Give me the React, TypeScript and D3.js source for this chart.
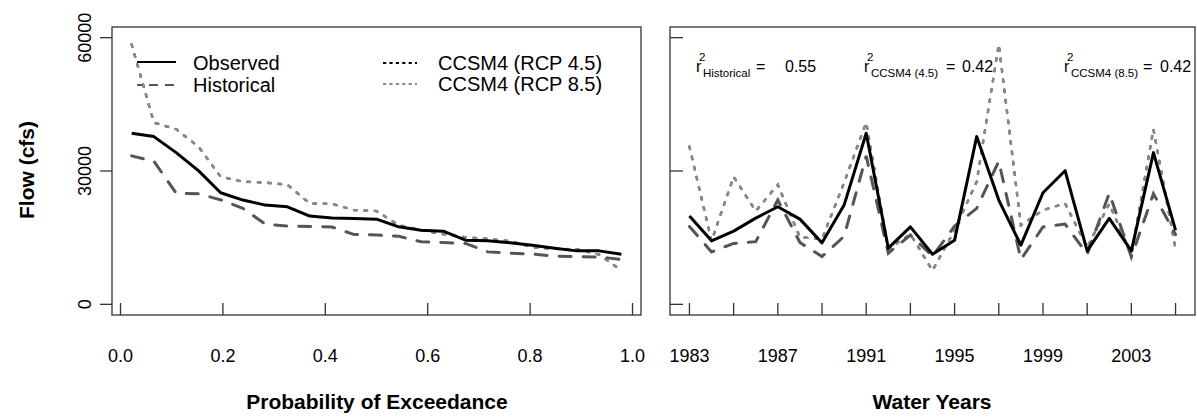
import React from "react";
import * as d3 from "d3";

// ---- Data ----
const years = [1983,1984,1985,1986,1987,1988,1989,1990,1991,1992,1993,1994,1995,1996,1997,1998,1999,2000,2001,2002,2003,2004,2005];
const observed = [19850,14280,16470,19400,21950,19170,13830,22330,38500,12630,17440,11280,14440,37740,23460,13310,25100,30070,12030,19330,12030,34130,16690];
const historical = [17500,11800,13700,14100,23500,13900,10750,15300,33400,11500,15600,10850,17600,21600,32200,10100,17400,18050,11300,25000,10650,24900,15700];
const rcp45 = [35500,14250,28700,21000,26900,15100,14700,27400,40900,12400,15800,7600,16700,27600,58500,17800,21200,22700,12800,22600,11200,39400,12500];
const rcp85 = [35500,14250,28700,21000,26900,15100,14700,27400,40900,12400,15800,7600,16700,27600,58500,17800,21200,22700,12800,22600,11200,39400,12500];

// exceedance curves (values ranked high to low)
const obsExc = [38500,37740,34130,30070,25100,23460,22330,21950,19850,19400,19330,19170,17440,16690,16470,14440,14280,13830,13310,12630,12030,12030,11280];
const histExc = [33400,32200,25000,24900,23500,21600,18050,17600,17500,17400,15700,15600,15300,14100,13900,13700,11800,11500,11300,10850,10750,10650,10100];
const rcp45Exc = [58500,40900,39400,35500,28700,27600,27400,26900,22700,22600,21200,21000,17800,16700,15800,15100,14700,14250,12800,12500,12400,11200,7600];
const rcp85Exc = [58500,40900,39400,35500,28700,27600,27400,26900,22700,22600,21200,21000,17800,16700,15800,15100,14700,14250,12800,12500,12400,11200,7600];

const yTicks = [0, 30000, 60000];
const probTicks = [0, 0.2, 0.4, 0.6, 0.8, 1.0];
const yearTicks = [1983,1985,1987,1989,1991,1993,1995,1997,1999,2001,2003,2005];
const yearLabels = [1983,1987,1991,1995,1999,2003];

const FONT = "'Liberation Sans', Arial, Helvetica, sans-serif";

export default function App() {
  const y = d3.scaleLinear().domain([-2400, 62400]).range([315, 27]);
  const xL = d3.scaleLinear().domain([-0.0166, 1.0166]).range([112, 641]);
  const xR = d3.scaleLinear().domain([1982.12, 2005.88]).range([670, 1195]);

  const n = obsExc.length;
  const prob = (i: number) => (i + 0.5) / n;
  const lineL = d3.line<number>().x((_, i) => xL(prob(i))).y((v) => y(v));
  const lineR = d3.line<number>().x((_, i) => xR(years[i])).y((v) => y(v));

  const sObs = { stroke: "#000", strokeWidth: 3, fill: "none" };
  const sHist = { stroke: "#555", strokeWidth: 3, fill: "none", strokeDasharray: "12,12" };
  const s45 = { stroke: "#000", strokeWidth: 2.2, fill: "none", strokeDasharray: "2.6,7.8" };
  const s85 = { stroke: "#8a8a8a", strokeWidth: 2.6, fill: "none", strokeDasharray: "2.6,7.8" };

  const tickFont = 18;
  return (
    <svg width={1197} height={417} style={{ position: "absolute", left: 0, top: 0, background: "#fff" }} fontFamily={FONT}>
      {/* LEFT PANEL */}
      <g>
        <path d={lineL(rcp45Exc) ?? ""} {...s45} strokeLinecap="round" />
        <path d={lineL(rcp85Exc) ?? ""} {...s85} strokeLinecap="round" />
        <path d={lineL(histExc) ?? ""} {...sHist} strokeLinecap="round" />
        <path d={lineL(obsExc) ?? ""} {...sObs} strokeLinejoin="round" />
        <rect x={112} y={27} width={641 - 112} height={315 - 27} fill="none" stroke="#333" strokeWidth={1.3} />
        {yTicks.map((t) => (
          <g key={"yl" + t}>
            <line x1={100} x2={112} y1={y(t)} y2={y(t)} stroke="#333" strokeWidth={1.3} />
            <text transform={`translate(91,${y(t)}) rotate(-90)`} textAnchor="middle" fontSize={tickFont}>{t}</text>
          </g>
        ))}
        {probTicks.map((t) => (
          <g key={"xl" + t}>
            <line x1={xL(t)} x2={xL(t)} y1={303} y2={315} stroke="#333" strokeWidth={1.3} />
            <text x={xL(t)} y={362} textAnchor="middle" fontSize={tickFont}>{t.toFixed(1)}</text>
          </g>
        ))}
        {/* legend */}
        <line x1={137} x2={176} y1={62} y2={62} stroke="#000" strokeWidth={2} />
        <line x1={137} x2={176} y1={85} y2={85} stroke="#555" strokeWidth={2} strokeDasharray="9,7" strokeDashoffset={4} />
        <text x={193} y={70} fontSize={20}>Observed</text>
        <text x={193} y={92} fontSize={20}>Historical</text>
        <line x1={383} x2={417} y1={63} y2={63} stroke="#000" strokeWidth={2} strokeDasharray="3.2,3.2" />
        <line x1={383} x2={417} y1={84} y2={84} stroke="#8a8a8a" strokeWidth={2} strokeDasharray="3.2,3.2" />
        <text x={438} y={70} fontSize={20}>CCSM4 (RCP 4.5)</text>
        <text x={438} y={91} fontSize={20}>CCSM4 (RCP 8.5)</text>
        <text x={377} y={409} textAnchor="middle" fontSize={21} fontWeight="bold">Probability of Exceedance</text>
        <text transform={`translate(34,170) rotate(-90)`} textAnchor="middle" fontSize={21} fontWeight="bold">Flow (cfs)</text>
      </g>

      {/* RIGHT PANEL */}
      <g>
        <path d={lineR(rcp45) ?? ""} {...s45} strokeLinecap="round" />
        <path d={lineR(rcp85) ?? ""} {...s85} strokeLinecap="round" />
        <path d={lineR(historical) ?? ""} {...sHist} strokeLinecap="round" />
        <path d={lineR(observed) ?? ""} {...sObs} strokeLinejoin="round" />
        <rect x={670} y={27} width={1195 - 670} height={315 - 27} fill="none" stroke="#333" strokeWidth={1.3} />
        {yTicks.map((t) => (
          <line key={"yr" + t} x1={670} x2={683} y1={y(t)} y2={y(t)} stroke="#333" strokeWidth={1.3} />
        ))}
        {yearTicks.map((t) => (
          <line key={"xr" + t} x1={xR(t)} x2={xR(t)} y1={303} y2={315} stroke="#333" strokeWidth={1.3} />
        ))}
        {yearLabels.map((t) => (
          <text key={"xrl" + t} x={xR(t)} y={362} textAnchor="middle" fontSize={tickFont}>{t}</text>
        ))}
        <text x={932} y={409} textAnchor="middle" fontSize={21} fontWeight="bold">Water Years</text>

        {/* r-squared annotations */}
        <g fontSize={16}>
          <text x={696} y={72}>r</text>
          <text x={699} y={61} fontSize={11.5}>2</text>
          <text x={703} y={77} fontSize={11.5}>Historical</text>
          <text x={756} y={72}>=</text>
          <text x={785} y={72}>0.55</text>

          <text x={864} y={72}>r</text>
          <text x={867} y={61} fontSize={11.5}>2</text>
          <text x={871} y={77} fontSize={11.5}>CCSM4 (4.5)</text>
          <text x={946} y={72}>=</text>
          <text x={962} y={72}>0.42</text>

          <text x={1064} y={72}>r</text>
          <text x={1067} y={61} fontSize={11.5}>2</text>
          <text x={1071} y={77} fontSize={11.5}>CCSM4 (8.5)</text>
          <text x={1143} y={72}>=</text>
          <text x={1160} y={72}>0.42</text>
        </g>
      </g>
    </svg>
  );
}
